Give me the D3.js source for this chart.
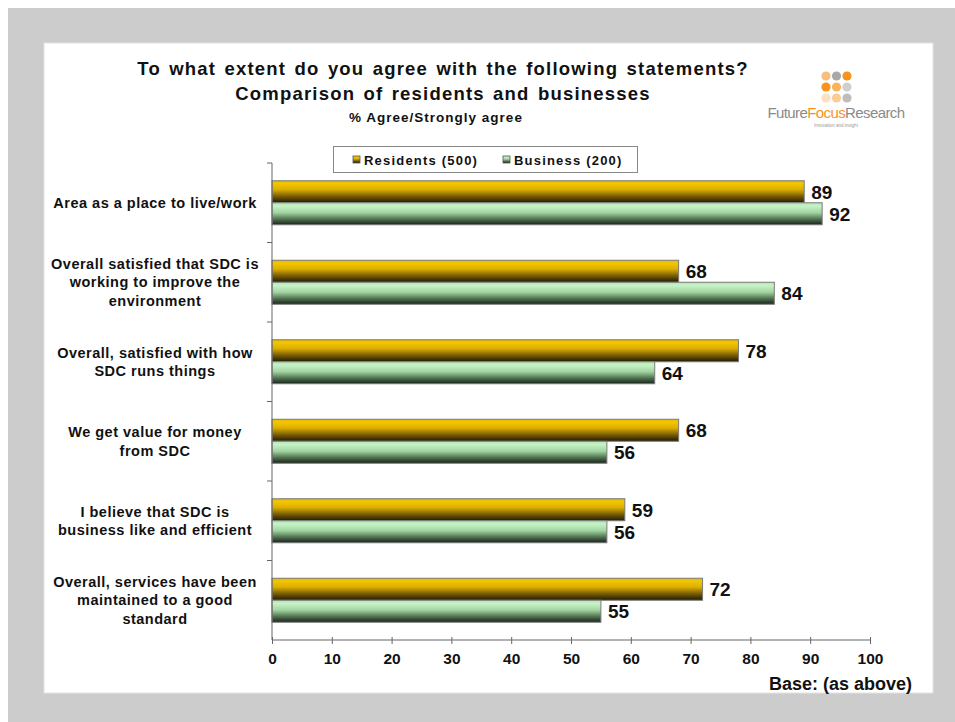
<!DOCTYPE html>
<html>
<head>
<meta charset="utf-8">
<script src="https://cdn.jsdelivr.net/npm/d3@7"></script>
<style>
  html, body { margin: 0; padding: 0; background: #ffffff; }
  svg { display: block; }
</style>
</head>
<body>
<svg id="chart" width="955" height="722"></svg>
<script>
// Survey statements (line breaks mark wrapped label lines)
const categories = [
  "Area as a place to live/work",
  "Overall satisfied that SDC is\nworking to improve the\nenvironment",
  "Overall, satisfied with how\nSDC runs things",
  "We get value for money\nfrom SDC",
  "I believe that SDC is\nbusiness like and efficient",
  "Overall, services have been\nmaintained to a good\nstandard"
];
const seriesNames = ["Residents (500)", "Business (200)"];
const residents = [89, 68, 78, 68, 59, 72];
const business = [92, 84, 64, 56, 56, 55];
const xTicks = [0, 10, 20, 30, 40, 50, 60, 70, 80, 90, 100];

const titleLines = [
  "To what extent do you agree with the following statements?",
  "Comparison of residents and businesses"
];
const subtitle = "% Agree/Strongly agree";
const baseNote = "Base: (as above)";

const svg = d3.select("#chart");
const FONT = "'Liberation Sans', Arial, sans-serif";

// Gradients for the two series
const defs = svg.append("defs");
function gradient(id, stops) {
  const g = defs.append("linearGradient").attr("id", id)
    .attr("x1", 0).attr("y1", 0).attr("x2", 0).attr("y2", 1);
  stops.forEach(([o, c]) => g.append("stop").attr("offset", o).attr("stop-color", c));
}
gradient("gradRes", [[0, "#e6b400"], [0.12, "#f4c700"], [0.4, "#dcae00"], [0.7, "#7a5e00"], [1, "#1f1a05"]]);
gradient("gradBus", [[0, "#b4e4b4"], [0.15, "#c6f3c6"], [0.45, "#a2d4a2"], [0.75, "#4f6f4f"], [1, "#17241a"]]);
const fills = ["url(#gradRes)", "url(#gradBus)"];

// Frame
svg.append("rect").attr("x", 8).attr("y", 8).attr("width", 947).attr("height", 714).attr("fill", "#cccccc");
svg.append("rect").attr("x", 44).attr("y", 43).attr("width", 889).attr("height", 650)
  .attr("fill", "#ffffff").attr("stroke", "#e2e2e2").attr("stroke-width", 1);

// Titles
svg.append("g").selectAll("text").data(titleLines).join("text")
  .attr("x", 443).attr("y", (d, i) => 74.5 + i * 25)
  .attr("text-anchor", "middle")
  .attr("font-family", FONT).attr("font-weight", "bold").attr("font-size", 18.5)
  .attr("letter-spacing", 1.2).attr("word-spacing", 2)
  .attr("fill", "#111").text(d => d);
svg.append("text").attr("x", 436).attr("y", 121.5).attr("text-anchor", "middle")
  .attr("font-family", FONT).attr("font-weight", "bold").attr("font-size", 13.5)
  .attr("letter-spacing", 1)
  .attr("fill", "#111").text(subtitle);

// Logo
const logo = svg.append("g");
const dotColors = [
  ["#f9bd7e", "#a8a8a8", "#f7941d"],
  ["#f7941d", "#f9b35a", "#cfcfcf"],
  ["#fde0c0", "#f9cb95", "#bdbdbd"]
];
dotColors.forEach((row, r) => row.forEach((c, k) => {
  logo.append("circle").attr("cx", 826 + k * 10.5).attr("cy", 76 + r * 11).attr("r", 4.6).attr("fill", c);
}));
const logoText = logo.append("text").attr("x", 836).attr("y", 118).attr("text-anchor", "middle")
  .attr("font-family", FONT).attr("font-size", 15).attr("letter-spacing", -0.6);
logoText.append("tspan").attr("fill", "#8a8a8a").text("Future");
logoText.append("tspan").attr("fill", "#f7941d").text("Focus");
logoText.append("tspan").attr("fill", "#8a8a8a").text("Research");
logo.append("text").attr("x", 836).attr("y", 127).attr("text-anchor", "middle")
  .attr("font-family", FONT).attr("font-size", 4.5).attr("fill", "#999").text("Innovation and insight");

// Scales
const x = d3.scaleLinear().domain([0, 100]).range([272, 870]);
const y = d3.scaleBand().domain(categories).range([163, 640]).padding(0);
const groupH = 44;
const sub = d3.scaleBand().domain([0, 1]).range([0, groupH]);
const offset = (y.bandwidth() - groupH) / 2;

// Bars and value labels
const series = [residents, business];
const barsG = svg.append("g");
series.forEach((vals, s) => {
  barsG.append("g").selectAll("rect").data(vals).join("rect")
    .attr("x", x(0))
    .attr("y", (d, i) => y(categories[i]) + offset + sub(s))
    .attr("width", d => x(d) - x(0))
    .attr("height", sub.bandwidth())
    .attr("fill", fills[s])
    .attr("stroke", "#7a7a7a").attr("stroke-width", 1);
  barsG.append("g").selectAll("text").data(vals).join("text")
    .attr("x", d => x(d) + 7)
    .attr("y", (d, i) => y(categories[i]) + offset + sub(s) + sub.bandwidth() / 2 + 7)
    .attr("font-family", FONT).attr("font-weight", "bold").attr("font-size", 19)
    .attr("fill", "#111").text(d => d);
});

// X axis
const xAxisG = svg.append("g").attr("transform", "translate(0,640)")
  .call(d3.axisBottom(x).tickValues(xTicks).tickSize(4).tickPadding(9));
xAxisG.select(".domain").attr("stroke", "#666").attr("d", `M${x(0)},0H${x(100)}`);
xAxisG.selectAll(".tick line").attr("stroke", "#666").attr("y1", -3).attr("y2", 4);
xAxisG.selectAll(".tick text").attr("font-family", FONT).attr("font-weight", "bold")
  .attr("font-size", 15.5).attr("fill", "#111");

// Y axis line with boundary ticks
const yAxisG = svg.append("g");
yAxisG.append("line").attr("x1", x(0)).attr("x2", x(0)).attr("y1", y.range()[0]).attr("y2", y.range()[1])
  .attr("stroke", "#666");
const bounds = categories.map(c => y(c));
yAxisG.selectAll("line.tk").data(bounds).join("line").attr("class", "tk")
  .attr("x1", x(0) - 5).attr("x2", x(0)).attr("y1", d => d).attr("y2", d => d).attr("stroke", "#666");

// Category labels
const lineH = 18.5;
const labelG = svg.append("g");
categories.forEach(c => {
  const lines = c.split("\n");
  const cy = y(c) + y.bandwidth() / 2;
  const t = labelG.append("text").attr("text-anchor", "middle")
    .attr("font-family", FONT).attr("font-weight", "bold").attr("font-size", 14.5)
    .attr("letter-spacing", 0.5)
    .attr("fill", "#111");
  lines.forEach((ln, i) => {
    t.append("tspan").attr("x", 155)
      .attr("y", cy + (i - (lines.length - 1) / 2) * lineH + 5).text(ln);
  });
});

// Legend
const legend = svg.append("g");
legend.append("rect").attr("x", 333.5).attr("y", 146.5).attr("width", 304).attr("height", 26)
  .attr("fill", "#fff").attr("stroke", "#888");
const legX = [353, 503];
seriesNames.forEach((n, i) => {
  legend.append("rect").attr("x", legX[i]).attr("y", 156).attr("width", 7).attr("height", 7)
    .attr("fill", fills[i]).attr("stroke", "#555").attr("stroke-width", 0.8);
  legend.append("text").attr("x", legX[i] + 11).attr("y", 164.5)
    .attr("font-family", FONT).attr("font-weight", "bold").attr("font-size", 13)
    .attr("letter-spacing", 1.2)
    .attr("fill", "#111").text(n);
});

// Base note
svg.append("text").attr("x", 912).attr("y", 690).attr("text-anchor", "end")
  .attr("font-family", FONT).attr("font-weight", "bold").attr("font-size", 18)
  .attr("fill", "#111").text(baseNote);
</script>
</body>
</html>
